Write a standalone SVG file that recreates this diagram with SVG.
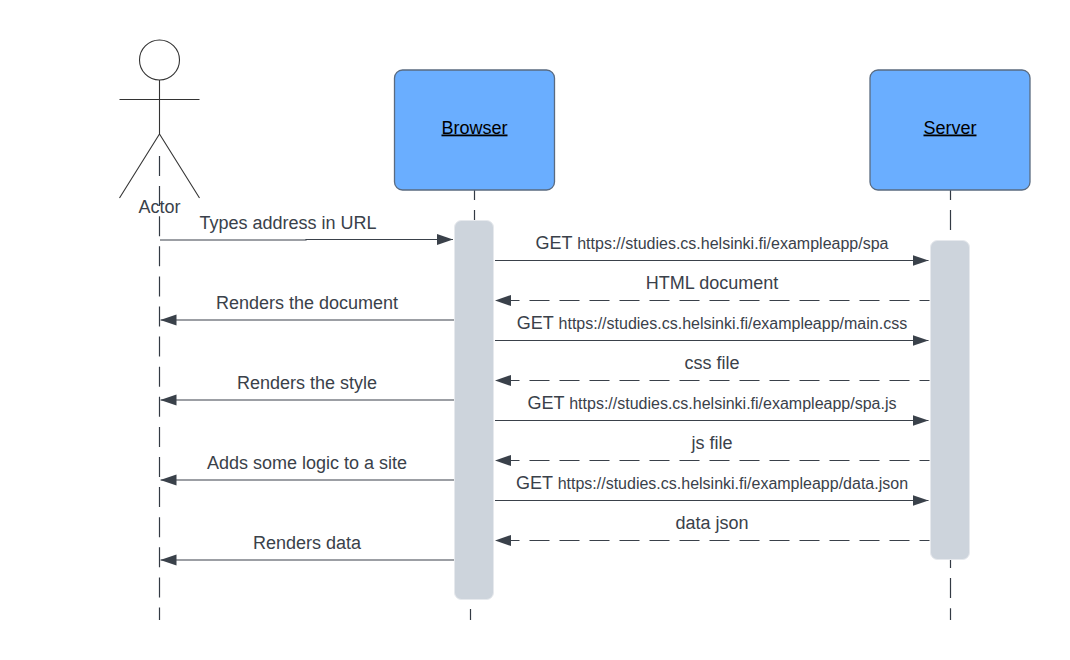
<svg xmlns="http://www.w3.org/2000/svg" width="1070" height="660" viewBox="0 0 1070 660">
<style>
text{font-family:"Liberation Sans",Arial,sans-serif;fill:#3a414a;font-size:18px;text-anchor:middle}
tspan.u{font-size:16px}
.life{stroke:#333a44;stroke-width:1.2;stroke-dasharray:20 10.100;fill:none}
.msg{stroke:#3a414a;stroke-width:1.2;fill:none}
.ret{stroke:#3a414a;stroke-width:1.2;fill:none;stroke-dasharray:20 10;stroke-dashoffset:10}
.head{fill:#3a414a}
.box{fill:#6aaeff;stroke:#5a6b80;stroke-width:1.3}
.act{fill:#cdd4dc;stroke:#e6e9ed;stroke-width:1}
.fig{fill:none;stroke:#333;stroke-width:1.1}
.title{fill:#000;text-decoration:underline}
</style>
<defs>
<marker id="a" markerUnits="userSpaceOnUse" markerWidth="16" markerHeight="12" refX="16" refY="6" orient="auto"><path class="head" d="M0 0.500L16 6L0 11.500Z"/></marker>
</defs>
<g id="lifelines">
<path class="life" d="M159.500 156V620"/>
<path class="life" d="M474.500 180V220"/>
<path class="life" d="M470.500 609V620"/>
<path class="life" d="M950.500 180V231"/>
<path class="life" d="M950.500 548V620"/>
</g>
<g id="actor">
<circle class="fig" cx="159.500" cy="60" r="20"/>
<path class="fig" d="M159.500 80V134M119.500 99.500H199.500M119.500 198L159.500 134L199.500 198"/>
<text x="159.500" y="212.500">Actor</text>
</g>
<g id="browser">
<rect class="box" x="394.500" y="70" width="160" height="120" rx="8"/>
<text class="title" x="474.500" y="133.500">Browser</text>
</g>
<g id="server">
<rect class="box" x="870" y="70" width="160" height="120" rx="8"/>
<text class="title" x="950" y="133.500">Server</text>
</g>
<g id="browser-activation"><rect class="act" x="454.500" y="220.500" width="39" height="379" rx="7"/></g>
<g id="server-activation"><rect class="act" x="930.500" y="240.500" width="39" height="319" rx="7"/></g>
<g id="connectors">
<path class="msg" marker-end="url(#a)" d="M160 240H306V239.500H453"/>
<path class="msg" marker-end="url(#a)" d="M495 260.500H928.500"/>
<path class="ret" marker-end="url(#a)" d="M929.500 300.500H495"/>
<path class="msg" marker-end="url(#a)" d="M454 320H160.500"/>
<path class="msg" marker-end="url(#a)" d="M495 340.500H928.500"/>
<path class="ret" marker-end="url(#a)" d="M929.500 380.500H495"/>
<path class="msg" marker-end="url(#a)" d="M454 400H160.500"/>
<path class="msg" marker-end="url(#a)" d="M495 420.500H928.500"/>
<path class="ret" marker-end="url(#a)" d="M929.500 460.500H495"/>
<path class="msg" marker-end="url(#a)" d="M454 480H160.500"/>
<path class="msg" marker-end="url(#a)" d="M495 500.500H928.500"/>
<path class="ret" marker-end="url(#a)" d="M929.500 540.500H495"/>
<path class="msg" marker-end="url(#a)" d="M454 560H160.500"/>
</g>
<g id="labels">
<text x="288" y="228.500">Types address in URL</text>
<text x="712" y="248.500">GET <tspan class="u">https://studies.cs.helsinki.fi/exampleapp/spa</tspan></text>
<text x="712" y="288.500">HTML document</text>
<text x="307" y="308.500">Renders the document</text>
<text x="712" y="328.500">GET <tspan class="u">https://studies.cs.helsinki.fi/exampleapp/main.css</tspan></text>
<text x="712" y="368.500">css file</text>
<text x="307" y="388.500">Renders the style</text>
<text x="712" y="408.500">GET <tspan class="u">https://studies.cs.helsinki.fi/exampleapp/spa.js</tspan></text>
<text x="712" y="448.500">js file</text>
<text x="307" y="468.500">Adds some logic to a site</text>
<text x="712" y="488.500">GET <tspan class="u">https://studies.cs.helsinki.fi/exampleapp/data.json</tspan></text>
<text x="712" y="528.500">data json</text>
<text x="307" y="548.500">Renders data</text>
</g>
</svg>
